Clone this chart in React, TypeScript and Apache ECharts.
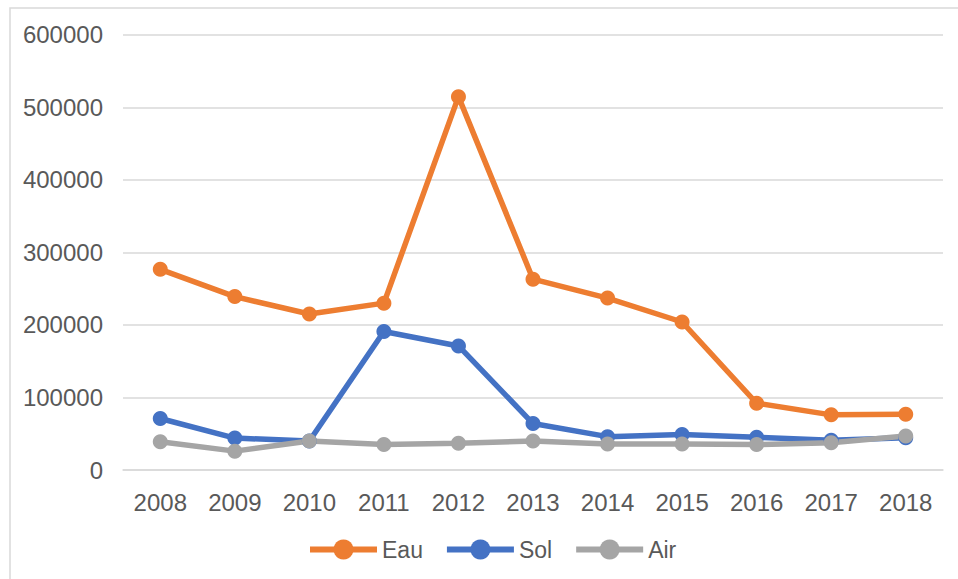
import React, { useEffect, useRef } from "react";
import * as echarts from "echarts";

const years = ["2008", "2009", "2010", "2011", "2012", "2013", "2014", "2015", "2016", "2017", "2018"];
const eau = [276600, 239000, 215000, 230000, 514600, 263000, 237000, 204000, 92000, 76000, 77000];
const sol = [71000, 44000, 40000, 191000, 171000, 64000, 46000, 49000, 45000, 41000, 44500];
const air = [39000, 26000, 40000, 35000, 37000, 40000, 36000, 36000, 35000, 37500, 47000];

const FONT = "Liberation Sans, Arial, sans-serif";
const TEXT = "#595959";

export default function App() {
  const ref = useRef<HTMLDivElement>(null);
  useEffect(() => {
    if (!ref.current) return;
    const chart = echarts.init(ref.current, null, { renderer: "svg" });
    const mk = (name: string, data: number[], color: string) => ({
      name,
      type: "line",
      data,
      symbol: "circle",
      symbolSize: 15,
      showSymbol: true,
      lineStyle: { color, width: 5.5 },
      itemStyle: { color },
    });
    chart.setOption({
      animation: false,
      backgroundColor: "#ffffff",
      textStyle: { fontFamily: FONT },
      graphic: [
        {
          type: "rect",
          shape: { x: 10, y: 8, width: 960, height: 600 },
          style: { fill: "none", stroke: "#D9D9D9", lineWidth: 1.5 },
          silent: true,
        },
      ],
      grid: { left: 123, right: 15, top: 34.7, bottom: 109, containLabel: false },
      legend: {
        left: 302,
        top: 533,
        itemWidth: 67,
        itemHeight: 25,
        itemGap: 21,
        lineStyle: { width: 6 },
        textStyle: { color: TEXT, fontSize: 23, fontFamily: FONT },
        data: ["Eau", "Sol", "Air"],
      },
      xAxis: {
        type: "category",
        data: years,
        boundaryGap: true,
        axisLine: { show: true, lineStyle: { color: "#D9D9D9", width: 1.5 } },
        axisTick: { show: false },
        axisLabel: { color: TEXT, fontSize: 24, margin: 20, fontFamily: FONT },
      },
      yAxis: {
        type: "value",
        min: 0,
        max: 600000,
        interval: 100000,
        axisLine: { show: false },
        axisTick: { show: false },
        splitLine: { lineStyle: { color: "#D9D9D9", width: 1.5 } },
        axisLabel: {
          color: TEXT,
          fontSize: 24,
          margin: 20,
          fontFamily: FONT,
          formatter: (v: number) => String(v),
        },
      },
      series: [
        mk("Eau", eau, "#ED7D31"),
        mk("Sol", sol, "#4472C4"),
        mk("Air", air, "#A5A5A5"),
      ],
    });
    return () => chart.dispose();
  }, []);
  return (
    <div
      ref={ref}
      style={{ position: "absolute", left: 0, top: 0, width: 958, height: 579 }}
    />
  );
}
